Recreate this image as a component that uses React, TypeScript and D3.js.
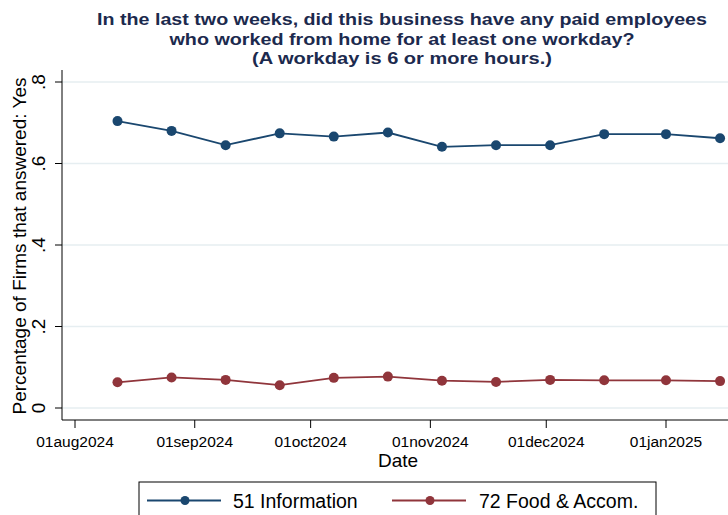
import React from "react";
import * as d3 from "d3";

const dates = [
  "2024-08-12", "2024-08-26", "2024-09-09", "2024-09-23", "2024-10-07", "2024-10-21",
  "2024-11-04", "2024-11-18", "2024-12-02", "2024-12-16", "2025-01-01", "2025-01-15",
];
const info = [0.704, 0.68, 0.645, 0.674, 0.666, 0.676, 0.641, 0.645, 0.645, 0.672, 0.672, 0.662];
const food = [0.063, 0.075, 0.069, 0.056, 0.074, 0.077, 0.067, 0.064, 0.069, 0.068, 0.068, 0.066];
const xTicks = ["2024-08-01", "2024-09-01", "2024-10-01", "2024-11-01", "2024-12-01", "2025-01-01"];
const yTicks = [0, 0.2, 0.4, 0.6, 0.8];
const titleLines = [
  "In the last two weeks, did this business have any paid employees",
  "who worked from home for at least one workday?",
  "(A workday is 6 or more hours.)",
];
const titleWidths = [610, 465, 300];
const seriesNames = ["51 Information", "72 Food & Accom."];
const colors = ["#1a476f", "#90353b"];

const W = 728, H = 515;
const parse = d3.utcParse("%Y-%m-%d");
const fmt = d3.utcFormat("%d%b%Y");

export default function App() {
  const x = d3.scaleUtc().domain([parse("2024-08-01")!, parse("2025-01-01")!]).range([75, 666]);
  const y = d3.scaleLinear().domain([0, 0.8]).range([408, 82]);
  const line = d3.line<[Date, number]>().x(d => x(d[0])).y(d => y(d[1]));
  const series = [info, food].map(vals => vals.map((v, i) => [parse(dates[i])!, v] as [Date, number]));
  const font = "'Liberation Sans', Arial, sans-serif";
  const plotLeft = 62, plotBottom = 420, plotTop = 70;

  return (
    <svg width={W} height={H} style={{ position: "absolute", left: 0, top: 0, background: "#fff" }} fontFamily={font}>
      <rect x={0} y={0} width={W} height={H} fill="#fff" />
      {titleLines.map((t, i) => (
        <text key={i} x={402} y={25 + i * 19.7} textAnchor="middle" fontSize={17} fontWeight="bold" fill="#1c2a4e"
          textLength={titleWidths[i]} lengthAdjust="spacingAndGlyphs">{t}</text>
      ))}
      {/* gridlines */}
      {yTicks.map(t => (
        <line key={t} x1={plotLeft} x2={W} y1={y(t)} y2={y(t)} stroke="#e6eef1" strokeWidth={1.5} />
      ))}
      {/* axes */}
      <line x1={plotLeft} x2={plotLeft} y1={plotTop} y2={plotBottom} stroke="#000" strokeWidth={1} />
      <line x1={plotLeft} x2={W} y1={plotBottom} y2={plotBottom} stroke="#000" strokeWidth={1} />
      {yTicks.map(t => (
        <g key={t}>
          <line x1={55} x2={plotLeft} y1={y(t)} y2={y(t)} stroke="#000" />
          <text transform={`translate(45,${y(t)}) rotate(-90)`} textAnchor="middle" fontSize={19} fill="#000">
            {t === 0 ? "0" : String(t).replace(/^0/, "")}
          </text>
        </g>
      ))}
      {xTicks.map(t => {
        const d = parse(t)!;
        return (
          <g key={t}>
            <line x1={x(d)} x2={x(d)} y1={plotBottom} y2={plotBottom + 8} stroke="#000" />
            <text x={x(d)} y={447} textAnchor="middle" fontSize={15.5} fill="#000">{fmt(d).toLowerCase()}</text>
          </g>
        );
      })}
      <text x={398} y={467} textAnchor="middle" fontSize={19} fill="#000">Date</text>
      <text transform={`translate(26,${246}) rotate(-90)`} textAnchor="middle" fontSize={19} fill="#000">
        Percentage of Firms that answered: Yes
      </text>
      {/* series */}
      {series.map((s, i) => (
        <g key={i}>
          <path d={line(s)!} fill="none" stroke={colors[i]} strokeWidth={1.8} />
          {s.map((p, j) => (
            <circle key={j} cx={x(p[0])} cy={y(p[1])} r={5} fill={colors[i]} />
          ))}
        </g>
      ))}
      {/* legend */}
      <rect x={139} y={482} width={517} height={60} fill="#fff" stroke="#000" strokeWidth={1} />
      {[{ l: 147, tx: 233 }, { l: 392, tx: 479 }].map((g, i) => (
        <g key={i}>
          <line x1={g.l} x2={g.l + 74} y1={500.5} y2={500.5} stroke={colors[i]} strokeWidth={1.8} />
          <circle cx={g.l + 38} cy={500.5} r={4.5} fill={colors[i]} />
          <text x={g.tx} y={507.5} fontSize={19.5} fill="#000">{seriesNames[i]}</text>
        </g>
      ))}
    </svg>
  );
}
